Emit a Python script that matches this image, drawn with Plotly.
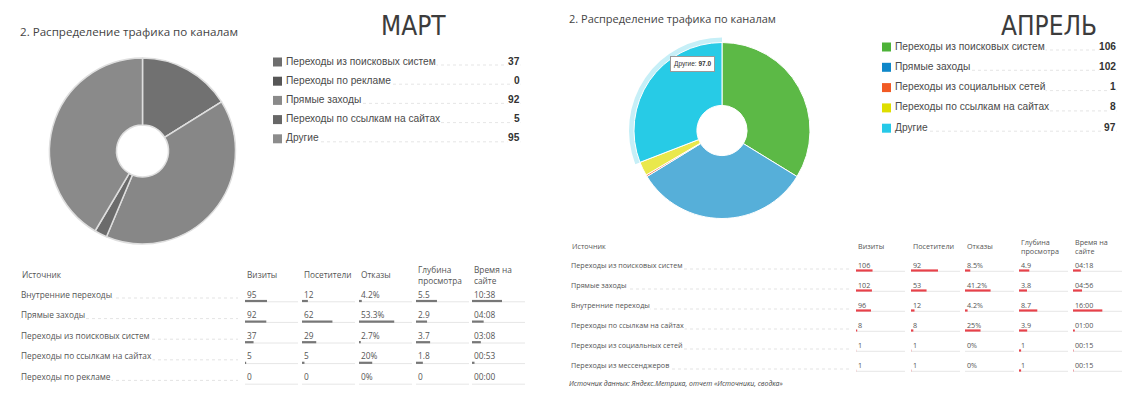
import plotly.graph_objects as go

W, H = 1138, 401

# ---- data: pie charts ----
march_channels = ["Переходы из поисковых систем", "Переходы по рекламе", "Прямые заходы",
                  "Переходы по ссылкам на сайтах", "Другие"]
march_values = [37, 0, 92, 5, 95]

april_channels = ["Переходы из поисковых систем", "Прямые заходы", "Переходы из социальных сетей",
                  "Переходы по ссылкам на сайтах", "Другие"]
april_values = [106, 102, 1, 8, 97]

hovered_channel = "Другие"  # slice under the mouse in the April screenshot

# ---- data: tables ----
table_headers = ["Визиты", "Посетители", "Отказы", "Глубина<br>просмотра", "Время на<br>сайте"]

march_sources = ["Внутренние переходы", "Прямые заходы", "Переходы из поисковых систем",
                 "Переходы по ссылкам на сайтах", "Переходы по рекламе"]
march_visits = [95, 92, 37, 5, 0]
march_visitors = [12, 62, 29, 5, 0]
march_bounce = [4.2, 53.3, 2.7, 20, 0]
march_depth = [5.5, 2.9, 3.7, 1.8, 0]
march_time = ["10:38", "04:08", "03:08", "00:53", "00:00"]

april_sources = ["Переходы из поисковых систем", "Прямые заходы", "Внутренние переходы",
                 "Переходы по ссылкам на сайтах", "Переходы из социальных сетей", "Переходы из мессенджеров"]
april_visits = [106, 102, 96, 8, 1, 1]
april_visitors = [92, 53, 12, 8, 1, 1]
april_bounce = [8.5, 41.2, 4.2, 25, 0, 0]
april_depth = [4.9, 3.8, 8.7, 3.9, 1, 1]
april_time = ["04:18", "04:56", "16:00", "01:00", "00:15", "00:15"]

# ---- styles ----
march_pie_colors = ["#717171", "#5a5a5a", "#878787", "#6b6b6b", "#8a8a8a"]
march_key_colors = ["#6e6e6e", "#565656", "#8a8a8a", "#676767", "#8c8c8c"]
april_pie_colors = ["#5cb946", "#56afd9", "#f07850", "#e9e84c", "#27cbe6"]
april_key_colors = ["#4db238", "#0e87c9", "#f15a24", "#dede00", "#26c9e8"]
TXT = "#555555"


def to_sec(t):
    m, s = t.split(":")
    return int(m) * 60 + int(s)


def pie_domain(cx, cy, r):
    return dict(x=[(cx - r) / W, (cx + r) / W], y=[1 - (cy + r) / H, 1 - (cy - r) / H])


fig = go.Figure()

# pies
fig.add_trace(go.Pie(
    labels=march_channels, values=march_values, sort=False, direction="clockwise", hole=0.28,
    marker=dict(colors=march_pie_colors, line=dict(color="#dedede", width=1.5)),
    textinfo="none", hoverinfo="skip", showlegend=False, domain=pie_domain(142.5, 151, 93)))

halo = ["#c6eff7" if c == hovered_channel else "rgba(0,0,0,0)" for c in april_channels]
fig.add_trace(go.Pie(
    labels=april_channels, values=april_values, sort=False, direction="clockwise", hole=0.3,
    marker=dict(colors=halo, line=dict(width=0)),
    textinfo="none", hoverinfo="skip", showlegend=False, domain=pie_domain(722, 130.5, 93)))
fig.add_trace(go.Pie(
    labels=april_channels, values=april_values, sort=False, direction="clockwise", hole=0.285,
    marker=dict(colors=april_pie_colors, line=dict(color="white", width=1)),
    textinfo="none", hoverinfo="skip", showlegend=False, domain=pie_domain(722, 130.5, 88)))

hv = april_values[april_channels.index(hovered_channel)]
fig.add_annotation(x=692, y=64, xref="x", yref="y", text=f"{hovered_channel}: <b>{hv:.1f}</b>",
                   showarrow=False, font=dict(family="Liberation Sans", size=6.5, color="#333"),
                   bgcolor="white", bordercolor="#9a9a9a", borderwidth=1, borderpad=3)


def add_key(labels, values, colors, x0, x1, y0, step, size):
    ys = [y0 + i * step for i in range(len(labels))]
    fig.add_trace(go.Scatter(
        x=[x0 - 7.5] * len(labels), y=[y + 1 for y in ys], mode="markers",
        marker=dict(symbol="square", size=9, color=colors, line=dict(width=0)),
        hoverinfo="skip", showlegend=False))
    for lab, val, y in zip(labels, values, ys):
        fig.add_shape(type="line", xref="x", yref="y", x0=x0, x1=x1, y0=y + 4, y1=y + 4,
                      line=dict(color="#dedede", width=0.8, dash="dot"), layer="below")
        fig.add_annotation(x=x0, y=y, text=lab, xanchor="left", showarrow=False, bgcolor="white",
                           borderpad=0, font=dict(family="Liberation Sans", size=size, color="#4a4a4a"))
        fig.add_annotation(x=x1, y=y, text=f"<b>{val}</b>", xanchor="right", showarrow=False,
                           bgcolor="white", borderpad=0,
                           font=dict(family="Liberation Sans", size=size, color="#333"))


add_key(march_channels, march_values, march_key_colors, 285, 521, 61, 19.2, 10.2)
add_key(april_channels, april_values, april_key_colors, 894, 1117, 46, 20.3, 10.2)


def add_table(sources, cols, x_label, x_cols, y_head, y0, step, track_w, leader_end,
              bar_off, bar_color, size):
    f = dict(family="Open Sans", size=size, color=TXT)
    fig.add_annotation(x=x_label, y=y_head, text="Источник", xanchor="left", showarrow=False, font=f)
    for hx, h in zip(x_cols, table_headers):
        fig.add_annotation(x=hx, y=y_head, text=h, xanchor="left", align="left", showarrow=False, font=f)
    for i, src in enumerate(sources):
        y = y0 + i * step
        fig.add_shape(type="line", xref="x", yref="y", x0=x_label, x1=leader_end, y0=y + 4, y1=y + 4,
                      line=dict(color="#dcdcdc", width=0.8, dash="dot"), layer="below")
        fig.add_annotation(x=x_label, y=y, text=src, xanchor="left", showarrow=False,
                           bgcolor="white", borderpad=0, font=f)
        for x, (vals, texts) in zip(x_cols, cols):
            total = sum(vals)
            fig.add_annotation(x=x, y=y, text=texts[i], xanchor="left", showarrow=False, font=f)
            fig.add_shape(type="line", xref="x", yref="y", x0=x, x1=x + track_w,
                          y0=y + bar_off + 0.8, y1=y + bar_off + 0.8,
                          line=dict(color="#e6e6e6", width=1))
            if vals[i] > 0:
                fig.add_shape(type="line", xref="x", yref="y", x0=x, x1=x + track_w * vals[i] / total,
                              y0=y + bar_off, y1=y + bar_off, line=dict(color=bar_color, width=2.2))


march_cols = [
    (march_visits, [str(v) for v in march_visits]),
    (march_visitors, [str(v) for v in march_visitors]),
    (march_bounce, [f"{v:g}%" for v in march_bounce]),
    (march_depth, [f"{v:g}" for v in march_depth]),
    ([to_sec(t) for t in march_time], march_time),
]
april_cols = [
    (april_visits, [str(v) for v in april_visits]),
    (april_visitors, [str(v) for v in april_visitors]),
    (april_bounce, [f"{v:g}%" for v in april_bounce]),
    (april_depth, [f"{v:g}" for v in april_depth]),
    ([to_sec(t) for t in april_time], april_time),
]

add_table(march_sources, march_cols, 20, [245, 302, 359, 416, 472], 274.5, 294, 20.6, 53, 238,
          7, "#777777", 8.3)
add_table(april_sources, april_cols, 570, [856, 911, 965, 1019, 1073], 246, 265, 20, 49, 852,
          5.5, "#e8414a", 7.2)

fig.add_annotation(x=567, y=383, text="<i>Источник данных: Яндекс.Метрика, отчет «Источники, сводка»</i>",
                   xanchor="left", showarrow=False, font=dict(family="Open Sans", size=6.9, color="#444"))

# titles
fig.add_annotation(x=18, y=31, text="2. Распределение трафика по каналам", xanchor="left",
                   showarrow=False, font=dict(family="Open Sans", size=11.6, color="#444"))
fig.add_annotation(x=567, y=18, text="2. Распределение трафика по каналам", xanchor="left",
                   showarrow=False, font=dict(family="Open Sans", size=11, color="#444"))
month_font = dict(family="Liberation Sans Narrow, DejaVu Sans Condensed, Roboto", size=26,
                  color="#3c3c3c")
fig.add_annotation(x=413, y=26, text="МАРТ", showarrow=False, font=month_font)
fig.add_annotation(x=1049, y=26, text="АПРЕЛЬ", showarrow=False, font=month_font)

fig.update_xaxes(range=[0, W], visible=False, fixedrange=True)
fig.update_yaxes(range=[H, 0], visible=False, fixedrange=True)
fig.update_layout(width=W, height=H, margin=dict(l=0, r=0, t=0, b=0),
                  paper_bgcolor="white", plot_bgcolor="white", showlegend=False)

fig.write_html("out.html", config={"displayModeBar": False},
               post_script="document.body.style.margin='0';")
